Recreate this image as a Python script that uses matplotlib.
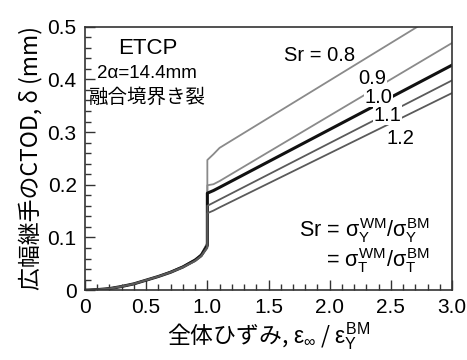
import numpy as np
import matplotlib.pyplot as plt
from matplotlib.ticker import MultipleLocator

plt.rcParams["font.family"] = ["Liberation Sans", "Noto Sans CJK JP"]
plt.rcParams["mathtext.fontset"] = "custom"
plt.rcParams["mathtext.rm"] = "Liberation Sans"
plt.rcParams["mathtext.it"] = "Liberation Sans"
plt.rcParams["mathtext.bf"] = "Liberation Sans:bold"
plt.rcParams["mathtext.sf"] = "Liberation Sans"

# overall strain (eps_inf / eps_Y^BM)
strain = [0.0, 0.1, 0.2, 0.3, 0.4, 0.5, 0.6, 0.7, 0.8, 0.9, 0.95, 1.0, 1.0, 1.05, 1.1, 3.0]

# CTOD (mm) per strength ratio Sr
sr_labels = ["0.8", "0.9", "1.0", "1.1", "1.2"]
ctod_08 = [0, 0.001, 0.003, 0.007, 0.012, 0.019, 0.026, 0.035, 0.045, 0.058, 0.068, 0.090, 0.247, 0.258, 0.270, 0.540]
ctod_09 = [0, 0.001, 0.003, 0.007, 0.012, 0.019, 0.026, 0.035, 0.045, 0.058, 0.068, 0.088, 0.199, 0.201, 0.207, 0.469]
ctod_10 = [0, 0.001, 0.003, 0.007, 0.012, 0.019, 0.026, 0.034, 0.044, 0.057, 0.066, 0.085, 0.184, 0.189, 0.195, 0.427]
ctod_11 = [0, 0.001, 0.003, 0.007, 0.012, 0.019, 0.026, 0.034, 0.044, 0.056, 0.065, 0.082, 0.160, 0.166, 0.172, 0.398]
ctod_12 = [0, 0.001, 0.003, 0.007, 0.012, 0.019, 0.026, 0.034, 0.043, 0.055, 0.064, 0.080, 0.146, 0.151, 0.157, 0.374]
curves = [ctod_08, ctod_09, ctod_10, ctod_11, ctod_12]

colors = ["#8a8a8a", "#8a8a8a", "#111111", "#5a5a5a", "#5a5a5a"]
widths = [1.3, 1.3, 2.2, 1.3, 1.3]

fig = plt.figure(figsize=(4.67, 3.6), dpi=100)
ax = fig.add_axes([0.182, 0.194, 0.786, 0.732])

for y, c, lw in zip(curves, colors, widths):
    ax.plot(strain, y, color=c, linewidth=lw, solid_joinstyle="round")

ax.set_xlim(0, 3.0)
ax.set_ylim(0, 0.5)
ax.xaxis.set_minor_locator(MultipleLocator(0.1))
ax.yaxis.set_minor_locator(MultipleLocator(0.02))
ax.set_xticks([0, 0.5, 1.0, 1.5, 2.0, 2.5, 3.0])
ax.set_xticklabels(["0", "0.5", "1.0", "1.5", "2.0", "2.5", "3.0"])
ax.set_yticks([0, 0.1, 0.2, 0.3, 0.4, 0.5])
ax.set_yticklabels(["0", "0.1", "0.2", "0.3", "0.4", "0.5"])
ax.tick_params(which="both", direction="in", top=False, right=False, labelsize=15, width=1.0, color="#333333")
ax.tick_params(which="major", length=7, pad=6)
ax.tick_params(which="minor", length=4)
for s in ax.spines.values():
    s.set_linewidth(1.2)
    s.set_color("#333333")

ax.set_ylabel("広幅継手のCTOD, δ (mm)", fontsize=16.5, family=["Noto Sans CJK JP", "Liberation Sans"], labelpad=4)
ax.set_xlabel(r"全体ひずみ, $\epsilon_{\infty}$ / $\epsilon_Y^{BM}$", fontsize=16.5, family="Noto Sans CJK JP", labelpad=2)

ax.text(0.51, 0.459, "ETCP", fontsize=16, ha="center", va="center")
ax.text(0.51, 0.412, "2α=14.4mm", fontsize=13.5, ha="center", va="center")
ax.text(0.51, 0.366, "融合境界き裂", fontsize=14, ha="center", va="center", family="Noto Sans CJK JP")

bbox = dict(facecolor="white", edgecolor="none", pad=0.3)
ax.text(1.92, 0.446, "Sr = 0.8", fontsize=14.5, ha="center", va="center")
label_xy = [(2.35, 0.402), (2.40, 0.366), (2.47, 0.332), (2.58, 0.288)]
for lab, (lx, ly) in zip(sr_labels[1:], label_xy):
    ax.text(lx, ly, lab, fontsize=14.5, ha="center", va="center", bbox=bbox)

ax.text(2.82, 0.114, r"Sr = $\sigma_Y^{WM}/\sigma_Y^{BM}$", fontsize=15.5, ha="right", va="center")
ax.text(2.82, 0.057, r"= $\sigma_T^{WM}/\sigma_T^{BM}$", fontsize=15.5, ha="right", va="center")

fig.savefig("out.png", dpi=100, facecolor="white")
